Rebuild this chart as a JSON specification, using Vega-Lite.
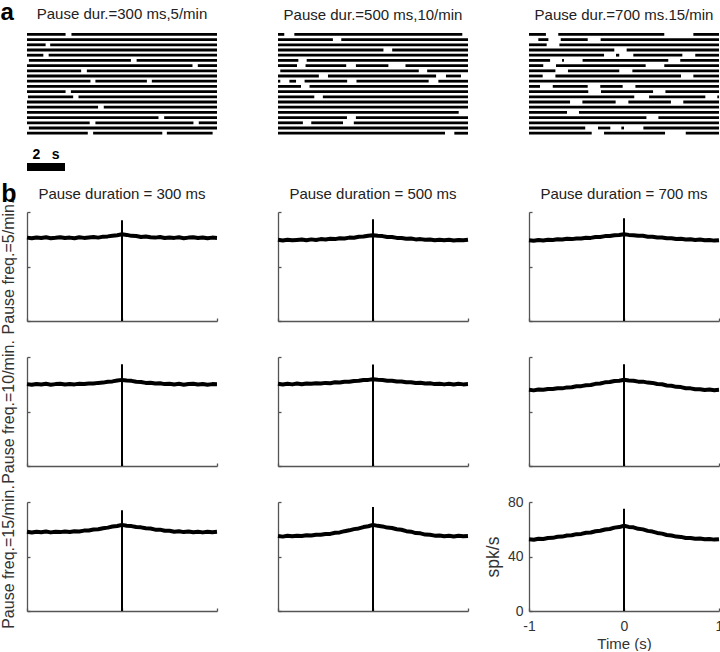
{
"$schema":"https://vega.github.io/schema/vega-lite/v6.json",
"padding":0,
"background":"white",
"config":{
 "view":{"stroke":null},
 "font":"Liberation Sans",
 "title":{"fontSize":15,"fontWeight":"normal","color":"#222","font":"Liberation Sans","offset":9.5,"frame":"group","baseline":"alphabetic"},
 "axis":{"grid":false,"domainColor":"#555","domainWidth":1.3,"tickColor":"#555","tickWidth":1.3,"tickSize":-3,"labelFont":"Liberation Sans","labelFontSize":14,"labelColor":"#333","labelFlush":false,"labelOverlap":false,"labelPadding":9,"titleFont":"Liberation Sans","titleFontWeight":"normal","titleColor":"#333"}
},
"datasets":{
 "ras":[
  {"c":1,"r":0,"s":0,"e":2.03},{"c":1,"r":0,"s":2.34,"e":10},
  {"c":1,"r":1,"s":0,"e":10},
  {"c":1,"r":2,"s":0,"e":0.98},{"c":1,"r":2,"s":1.22,"e":10},
  {"c":1,"r":3,"s":0,"e":10},
  {"c":1,"r":4,"s":0,"e":0.86},{"c":1,"r":4,"s":1.14,"e":10},
  {"c":1,"r":5,"s":0.1,"e":5.47},{"c":1,"r":5,"s":5.77,"e":10},
  {"c":1,"r":6,"s":0,"e":8.71},{"c":1,"r":6,"s":8.99,"e":10},
  {"c":1,"r":7,"s":0,"e":2.85},{"c":1,"r":7,"s":3.15,"e":10},
  {"c":1,"r":8,"s":0,"e":10},
  {"c":1,"r":9,"s":0,"e":3.34},{"c":1,"r":9,"s":3.6,"e":6.31},{"c":1,"r":9,"s":6.57,"e":10},
  {"c":1,"r":10,"s":0,"e":10},
  {"c":1,"r":11,"s":0,"e":2.03},{"c":1,"r":11,"s":2.31,"e":10},
  {"c":1,"r":12,"s":0.05,"e":2.43},{"c":1,"r":12,"s":2.71,"e":10},
  {"c":1,"r":13,"s":0,"e":10},
  {"c":1,"r":14,"s":0,"e":3.74},{"c":1,"r":14,"s":4.04,"e":10},
  {"c":1,"r":15,"s":0,"e":10},
  {"c":1,"r":16,"s":0,"e":6.92},{"c":1,"r":16,"s":7.22,"e":10},
  {"c":1,"r":17,"s":0,"e":3.3},{"c":1,"r":17,"s":3.6,"e":8.76},{"c":1,"r":17,"s":9.04,"e":10},
  {"c":1,"r":18,"s":0.1,"e":10},
  {"c":1,"r":19,"s":0,"e":3.2},{"c":1,"r":19,"s":3.48,"e":7.12},{"c":1,"r":19,"s":7.36,"e":9.77},

  {"c":2,"r":0,"s":0,"e":0.33},{"c":2,"r":0,"s":0.86,"e":9.7},
  {"c":2,"r":1,"s":0,"e":2.89},{"c":2,"r":1,"s":3.33,"e":10},
  {"c":2,"r":2,"s":0,"e":10},
  {"c":2,"r":3,"s":0,"e":5.55},{"c":2,"r":3,"s":6.01,"e":10},
  {"c":2,"r":4,"s":0,"e":10},
  {"c":2,"r":5,"s":0,"e":1.07},{"c":2,"r":5,"s":1.51,"e":10},
  {"c":2,"r":6,"s":0,"e":1.0},{"c":2,"r":6,"s":1.45,"e":3.59},{"c":2,"r":6,"s":4.1,"e":5.81},{"c":2,"r":6,"s":6.71,"e":10},
  {"c":2,"r":7,"s":0.12,"e":7.41},{"c":2,"r":7,"s":7.85,"e":10},
  {"c":2,"r":8,"s":0,"e":2.15},{"c":2,"r":8,"s":2.63,"e":8.32},{"c":2,"r":8,"s":8.84,"e":9.63},
  {"c":2,"r":9,"s":0,"e":0.12},{"c":2,"r":9,"s":0.6,"e":0.95},{"c":2,"r":9,"s":1.4,"e":3.64},{"c":2,"r":9,"s":4.13,"e":7.93},{"c":2,"r":9,"s":8.44,"e":10},
  {"c":2,"r":10,"s":0,"e":1.21},{"c":2,"r":10,"s":1.66,"e":10},
  {"c":2,"r":11,"s":0,"e":10},
  {"c":2,"r":12,"s":0,"e":1.91},{"c":2,"r":12,"s":2.36,"e":10},
  {"c":2,"r":13,"s":0,"e":10},
  {"c":2,"r":14,"s":0,"e":10},
  {"c":2,"r":15,"s":0,"e":9.51},
  {"c":2,"r":16,"s":0,"e":3.63},{"c":2,"r":16,"s":4.1,"e":10},
  {"c":2,"r":17,"s":0,"e":1.31},{"c":2,"r":17,"s":1.75,"e":3.42},{"c":2,"r":17,"s":3.99,"e":10},
  {"c":2,"r":18,"s":0,"e":10},
  {"c":2,"r":19,"s":0,"e":8.79},{"c":2,"r":19,"s":9.28,"e":10},

  {"c":3,"r":0,"s":0,"e":0.89},{"c":3,"r":0,"s":1.54,"e":7.12},{"c":3,"r":0,"s":8.65,"e":10},
  {"c":3,"r":1,"s":0.49,"e":1.02},{"c":3,"r":1,"s":1.67,"e":3.09},{"c":3,"r":1,"s":3.77,"e":10},
  {"c":3,"r":2,"s":0,"e":0.93},{"c":3,"r":2,"s":1.6,"e":10},
  {"c":3,"r":3,"s":0,"e":4.49},{"c":3,"r":3,"s":5.14,"e":10},
  {"c":3,"r":4,"s":0,"e":3.95},{"c":3,"r":4,"s":4.58,"e":4.75},{"c":3,"r":4,"s":5.49,"e":8.07},{"c":3,"r":4,"s":8.75,"e":10},
  {"c":3,"r":5,"s":0,"e":1.11},{"c":3,"r":5,"s":1.74,"e":1.84},{"c":3,"r":5,"s":2.82,"e":7.33},{"c":3,"r":5,"s":7.96,"e":10},
  {"c":3,"r":6,"s":0,"e":0.75},{"c":3,"r":6,"s":1.42,"e":6.14},{"c":3,"r":6,"s":7.12,"e":10},
  {"c":3,"r":7,"s":0,"e":1.39},{"c":3,"r":7,"s":2.05,"e":4.75},{"c":3,"r":7,"s":5.44,"e":10},
  {"c":3,"r":8,"s":0,"e":0.72},{"c":3,"r":8,"s":1.39,"e":8.0},{"c":3,"r":8,"s":8.65,"e":10},
  {"c":3,"r":9,"s":0,"e":10},
  {"c":3,"r":10,"s":0,"e":0.58},{"c":3,"r":10,"s":1.25,"e":3.09},{"c":3,"r":10,"s":3.75,"e":4.93},{"c":3,"r":10,"s":5.6,"e":10},
  {"c":3,"r":11,"s":0,"e":3.12},{"c":3,"r":11,"s":3.79,"e":6.53},{"c":3,"r":11,"s":7.18,"e":10},
  {"c":3,"r":12,"s":0,"e":5.54},{"c":3,"r":12,"s":6.32,"e":9.28},{"c":3,"r":12,"s":9.91,"e":10},
  {"c":3,"r":13,"s":0,"e":2.16},{"c":3,"r":13,"s":2.81,"e":4.56},{"c":3,"r":13,"s":5.23,"e":7.47},{"c":3,"r":13,"s":8.12,"e":10},
  {"c":3,"r":14,"s":0,"e":10},
  {"c":3,"r":15,"s":0,"e":2.0},{"c":3,"r":15,"s":2.63,"e":10},
  {"c":3,"r":16,"s":0,"e":6.18},{"c":3,"r":16,"s":6.81,"e":10},
  {"c":3,"r":17,"s":0,"e":10},
  {"c":3,"r":18,"s":0,"e":2.96},{"c":3,"r":18,"s":3.63,"e":4.28},{"c":3,"r":18,"s":4.86,"e":5.0},{"c":3,"r":18,"s":6.02,"e":10},
  {"c":3,"r":19,"s":0,"e":3.3},{"c":3,"r":19,"s":3.95,"e":7.16},{"c":3,"r":19,"s":8.25,"e":10}
 ],
 "sp":[
  {"p":"11","t":0,"b":0,"v":74},{"p":"12","t":0,"b":0,"v":74.6},{"p":"13","t":0,"b":0,"v":75.4},
  {"p":"21","t":0,"b":0,"v":74.6},{"p":"22","t":0,"b":0,"v":74.5},{"p":"23","t":0,"b":0,"v":74.6},
  {"p":"31","t":0,"b":0,"v":74},{"p":"32","t":0,"b":0,"v":76.3},{"p":"33","t":0,"b":0,"v":75}
 ],
 "tr":[
  {"p":"11","t":-1,"v":61.2},{"p":"11","t":-0.95,"v":60.7},{"p":"11","t":-0.9,"v":61.3},{"p":"11","t":-0.85,"v":60.9},{"p":"11","t":-0.8,"v":61.4},{"p":"11","t":-0.75,"v":60.8},{"p":"11","t":-0.7,"v":61.1},{"p":"11","t":-0.65,"v":61.5},{"p":"11","t":-0.6,"v":60.9},{"p":"11","t":-0.55,"v":61.2},{"p":"11","t":-0.5,"v":60.8},{"p":"11","t":-0.45,"v":61.4},{"p":"11","t":-0.4,"v":61.0},{"p":"11","t":-0.35,"v":61.3},{"p":"11","t":-0.3,"v":61.6},{"p":"11","t":-0.25,"v":61.2},{"p":"11","t":-0.2,"v":61.9},{"p":"11","t":-0.15,"v":62.1},{"p":"11","t":-0.1,"v":62.6},{"p":"11","t":-0.05,"v":63.0},{"p":"11","t":0,"v":63.6},{"p":"11","t":0.05,"v":63.2},{"p":"11","t":0.1,"v":62.5},{"p":"11","t":0.15,"v":62.4},{"p":"11","t":0.2,"v":61.7},{"p":"11","t":0.25,"v":62.0},{"p":"11","t":0.3,"v":61.4},{"p":"11","t":0.35,"v":61.2},{"p":"11","t":0.4,"v":61.6},{"p":"11","t":0.45,"v":60.9},{"p":"11","t":0.5,"v":61.3},{"p":"11","t":0.55,"v":61.0},{"p":"11","t":0.6,"v":61.4},{"p":"11","t":0.65,"v":60.8},{"p":"11","t":0.7,"v":61.2},{"p":"11","t":0.75,"v":61.5},{"p":"11","t":0.8,"v":60.9},{"p":"11","t":0.85,"v":61.3},{"p":"11","t":0.9,"v":60.8},{"p":"11","t":0.95,"v":61.2},{"p":"11","t":1,"v":61.0},
  {"p":"12","t":-1,"v":59.6},{"p":"12","t":-0.95,"v":59.1},{"p":"12","t":-0.9,"v":59.7},{"p":"12","t":-0.85,"v":59.2},{"p":"12","t":-0.8,"v":59.5},{"p":"12","t":-0.75,"v":59.8},{"p":"12","t":-0.7,"v":59.3},{"p":"12","t":-0.65,"v":59.9},{"p":"12","t":-0.6,"v":59.5},{"p":"12","t":-0.55,"v":60.1},{"p":"12","t":-0.5,"v":59.8},{"p":"12","t":-0.45,"v":60.3},{"p":"12","t":-0.4,"v":60.1},{"p":"12","t":-0.35,"v":60.7},{"p":"12","t":-0.3,"v":60.6},{"p":"12","t":-0.25,"v":61.2},{"p":"12","t":-0.2,"v":61.1},{"p":"12","t":-0.15,"v":61.8},{"p":"12","t":-0.1,"v":62.0},{"p":"12","t":-0.05,"v":62.6},{"p":"12","t":0,"v":63.0},{"p":"12","t":0.05,"v":62.5},{"p":"12","t":0.1,"v":62.3},{"p":"12","t":0.15,"v":61.6},{"p":"12","t":0.2,"v":61.6},{"p":"12","t":0.25,"v":61.0},{"p":"12","t":0.3,"v":60.9},{"p":"12","t":0.35,"v":60.4},{"p":"12","t":0.4,"v":60.5},{"p":"12","t":0.45,"v":59.9},{"p":"12","t":0.5,"v":60.1},{"p":"12","t":0.55,"v":59.6},{"p":"12","t":0.6,"v":59.8},{"p":"12","t":0.65,"v":59.3},{"p":"12","t":0.7,"v":59.7},{"p":"12","t":0.75,"v":59.2},{"p":"12","t":0.8,"v":59.6},{"p":"12","t":0.85,"v":59.1},{"p":"12","t":0.9,"v":59.5},{"p":"12","t":0.95,"v":59.2},{"p":"12","t":1,"v":59.6},
  {"p":"13","t":-1,"v":59.3},{"p":"13","t":-0.95,"v":58.9},{"p":"13","t":-0.9,"v":59.4},{"p":"13","t":-0.85,"v":59.1},{"p":"13","t":-0.8,"v":59.7},{"p":"13","t":-0.75,"v":59.5},{"p":"13","t":-0.7,"v":60.0},{"p":"13","t":-0.65,"v":59.8},{"p":"13","t":-0.6,"v":60.4},{"p":"13","t":-0.55,"v":60.1},{"p":"13","t":-0.5,"v":60.6},{"p":"13","t":-0.45,"v":60.5},{"p":"13","t":-0.4,"v":61.1},{"p":"13","t":-0.35,"v":61.0},{"p":"13","t":-0.3,"v":61.6},{"p":"13","t":-0.25,"v":61.7},{"p":"13","t":-0.2,"v":62.3},{"p":"13","t":-0.15,"v":62.4},{"p":"13","t":-0.1,"v":63.0},{"p":"13","t":-0.05,"v":63.1},{"p":"13","t":0,"v":63.7},{"p":"13","t":0.05,"v":63.2},{"p":"13","t":0.1,"v":63.0},{"p":"13","t":0.15,"v":62.5},{"p":"13","t":0.2,"v":62.5},{"p":"13","t":0.25,"v":61.9},{"p":"13","t":0.3,"v":61.9},{"p":"13","t":0.35,"v":61.3},{"p":"13","t":0.4,"v":61.3},{"p":"13","t":0.45,"v":60.7},{"p":"13","t":0.5,"v":60.8},{"p":"13","t":0.55,"v":60.2},{"p":"13","t":0.6,"v":60.4},{"p":"13","t":0.65,"v":59.8},{"p":"13","t":0.7,"v":60.0},{"p":"13","t":0.75,"v":59.5},{"p":"13","t":0.8,"v":59.8},{"p":"13","t":0.85,"v":59.2},{"p":"13","t":0.9,"v":59.5},{"p":"13","t":0.95,"v":59.0},{"p":"13","t":1,"v":59.3},
  {"p":"21","t":-1,"v":60.1},{"p":"21","t":-0.95,"v":59.6},{"p":"21","t":-0.9,"v":60.2},{"p":"21","t":-0.85,"v":59.8},{"p":"21","t":-0.8,"v":60.3},{"p":"21","t":-0.75,"v":59.7},{"p":"21","t":-0.7,"v":60.1},{"p":"21","t":-0.65,"v":60.4},{"p":"21","t":-0.6,"v":59.8},{"p":"21","t":-0.55,"v":60.2},{"p":"21","t":-0.5,"v":59.9},{"p":"21","t":-0.45,"v":60.4},{"p":"21","t":-0.4,"v":60.2},{"p":"21","t":-0.35,"v":60.6},{"p":"21","t":-0.3,"v":60.5},{"p":"21","t":-0.25,"v":61.0},{"p":"21","t":-0.2,"v":61.2},{"p":"21","t":-0.15,"v":61.8},{"p":"21","t":-0.1,"v":62.1},{"p":"21","t":-0.05,"v":62.7},{"p":"21","t":0,"v":63.2},{"p":"21","t":0.05,"v":62.8},{"p":"21","t":0.1,"v":62.5},{"p":"21","t":0.15,"v":61.8},{"p":"21","t":0.2,"v":61.7},{"p":"21","t":0.25,"v":61.0},{"p":"21","t":0.3,"v":61.1},{"p":"21","t":0.35,"v":60.5},{"p":"21","t":0.4,"v":60.7},{"p":"21","t":0.45,"v":60.1},{"p":"21","t":0.5,"v":60.4},{"p":"21","t":0.55,"v":59.8},{"p":"21","t":0.6,"v":60.3},{"p":"21","t":0.65,"v":59.7},{"p":"21","t":0.7,"v":60.2},{"p":"21","t":0.75,"v":60.4},{"p":"21","t":0.8,"v":59.8},{"p":"21","t":0.85,"v":60.2},{"p":"21","t":0.9,"v":59.7},{"p":"21","t":0.95,"v":60.1},{"p":"21","t":1,"v":60.0},
  {"p":"22","t":-1,"v":60.3},{"p":"22","t":-0.95,"v":59.8},{"p":"22","t":-0.9,"v":60.4},{"p":"22","t":-0.85,"v":59.9},{"p":"22","t":-0.8,"v":60.5},{"p":"22","t":-0.75,"v":60.0},{"p":"22","t":-0.7,"v":60.6},{"p":"22","t":-0.65,"v":60.3},{"p":"22","t":-0.6,"v":60.8},{"p":"22","t":-0.55,"v":60.5},{"p":"22","t":-0.5,"v":61.0},{"p":"22","t":-0.45,"v":60.8},{"p":"22","t":-0.4,"v":61.4},{"p":"22","t":-0.35,"v":61.3},{"p":"22","t":-0.3,"v":61.9},{"p":"22","t":-0.25,"v":61.8},{"p":"22","t":-0.2,"v":62.4},{"p":"22","t":-0.15,"v":62.5},{"p":"22","t":-0.1,"v":63.1},{"p":"22","t":-0.05,"v":63.2},{"p":"22","t":0,"v":63.7},{"p":"22","t":0.05,"v":63.3},{"p":"22","t":0.1,"v":63.1},{"p":"22","t":0.15,"v":62.6},{"p":"22","t":0.2,"v":62.6},{"p":"22","t":0.25,"v":62.0},{"p":"22","t":0.3,"v":62.0},{"p":"22","t":0.35,"v":61.4},{"p":"22","t":0.4,"v":61.5},{"p":"22","t":0.45,"v":60.9},{"p":"22","t":0.5,"v":61.1},{"p":"22","t":0.55,"v":60.5},{"p":"22","t":0.6,"v":60.7},{"p":"22","t":0.65,"v":60.1},{"p":"22","t":0.7,"v":60.4},{"p":"22","t":0.75,"v":59.9},{"p":"22","t":0.8,"v":60.3},{"p":"22","t":0.85,"v":59.8},{"p":"22","t":0.9,"v":60.3},{"p":"22","t":0.95,"v":59.9},{"p":"22","t":1,"v":60.2},
  {"p":"23","t":-1,"v":55.9},{"p":"23","t":-0.95,"v":55.5},{"p":"23","t":-0.9,"v":56.1},{"p":"23","t":-0.85,"v":55.9},{"p":"23","t":-0.8,"v":56.5},{"p":"23","t":-0.75,"v":56.5},{"p":"23","t":-0.7,"v":57.1},{"p":"23","t":-0.65,"v":57.0},{"p":"23","t":-0.6,"v":57.7},{"p":"23","t":-0.55,"v":57.8},{"p":"23","t":-0.5,"v":58.5},{"p":"23","t":-0.45,"v":58.6},{"p":"23","t":-0.4,"v":59.3},{"p":"23","t":-0.35,"v":59.5},{"p":"23","t":-0.3,"v":60.3},{"p":"23","t":-0.25,"v":60.6},{"p":"23","t":-0.2,"v":61.4},{"p":"23","t":-0.15,"v":61.6},{"p":"23","t":-0.1,"v":62.4},{"p":"23","t":-0.05,"v":62.6},{"p":"23","t":0,"v":63.3},{"p":"23","t":0.05,"v":62.7},{"p":"23","t":0.1,"v":62.6},{"p":"23","t":0.15,"v":61.9},{"p":"23","t":0.2,"v":61.9},{"p":"23","t":0.25,"v":61.2},{"p":"23","t":0.3,"v":61.0},{"p":"23","t":0.35,"v":60.2},{"p":"23","t":0.4,"v":60.0},{"p":"23","t":0.45,"v":59.1},{"p":"23","t":0.5,"v":58.9},{"p":"23","t":0.55,"v":58.1},{"p":"23","t":0.6,"v":57.9},{"p":"23","t":0.65,"v":57.1},{"p":"23","t":0.7,"v":57.0},{"p":"23","t":0.75,"v":56.3},{"p":"23","t":0.8,"v":56.4},{"p":"23","t":0.85,"v":55.8},{"p":"23","t":0.9,"v":56.1},{"p":"23","t":0.95,"v":55.6},{"p":"23","t":1,"v":55.9},
  {"p":"31","t":-1,"v":58.1},{"p":"31","t":-0.95,"v":57.6},{"p":"31","t":-0.9,"v":58.2},{"p":"31","t":-0.85,"v":57.8},{"p":"31","t":-0.8,"v":58.3},{"p":"31","t":-0.75,"v":57.7},{"p":"31","t":-0.7,"v":58.2},{"p":"31","t":-0.65,"v":57.9},{"p":"31","t":-0.6,"v":58.4},{"p":"31","t":-0.55,"v":58.0},{"p":"31","t":-0.5,"v":58.5},{"p":"31","t":-0.45,"v":58.4},{"p":"31","t":-0.4,"v":59.0},{"p":"31","t":-0.35,"v":59.1},{"p":"31","t":-0.3,"v":59.8},{"p":"31","t":-0.25,"v":60.0},{"p":"31","t":-0.2,"v":60.7},{"p":"31","t":-0.15,"v":61.2},{"p":"31","t":-0.1,"v":62.0},{"p":"31","t":-0.05,"v":62.4},{"p":"31","t":0,"v":63.2},{"p":"31","t":0.05,"v":62.6},{"p":"31","t":0.1,"v":62.3},{"p":"31","t":0.15,"v":61.6},{"p":"31","t":0.2,"v":61.4},{"p":"31","t":0.25,"v":60.7},{"p":"31","t":0.3,"v":60.5},{"p":"31","t":0.35,"v":59.7},{"p":"31","t":0.4,"v":59.7},{"p":"31","t":0.45,"v":58.9},{"p":"31","t":0.5,"v":58.9},{"p":"31","t":0.55,"v":58.2},{"p":"31","t":0.6,"v":58.5},{"p":"31","t":0.65,"v":57.9},{"p":"31","t":0.7,"v":58.3},{"p":"31","t":0.75,"v":57.8},{"p":"31","t":0.8,"v":58.2},{"p":"31","t":0.85,"v":57.7},{"p":"31","t":0.9,"v":58.2},{"p":"31","t":0.95,"v":57.8},{"p":"31","t":1,"v":58.1},
  {"p":"32","t":-1,"v":55.1},{"p":"32","t":-0.95,"v":54.6},{"p":"32","t":-0.9,"v":55.2},{"p":"32","t":-0.85,"v":54.8},{"p":"32","t":-0.8,"v":55.3},{"p":"32","t":-0.75,"v":55.0},{"p":"32","t":-0.7,"v":55.6},{"p":"32","t":-0.65,"v":55.4},{"p":"32","t":-0.6,"v":56.0},{"p":"32","t":-0.55,"v":55.9},{"p":"32","t":-0.5,"v":56.5},{"p":"32","t":-0.45,"v":56.6},{"p":"32","t":-0.4,"v":57.4},{"p":"32","t":-0.35,"v":57.7},{"p":"32","t":-0.3,"v":58.6},{"p":"32","t":-0.25,"v":59.2},{"p":"32","t":-0.2,"v":60.1},{"p":"32","t":-0.15,"v":60.6},{"p":"32","t":-0.1,"v":61.6},{"p":"32","t":-0.05,"v":62.2},{"p":"32","t":0,"v":63.2},{"p":"32","t":0.05,"v":62.5},{"p":"32","t":0.1,"v":62.1},{"p":"32","t":0.15,"v":61.2},{"p":"32","t":0.2,"v":60.9},{"p":"32","t":0.25,"v":60.0},{"p":"32","t":0.3,"v":59.6},{"p":"32","t":0.35,"v":58.6},{"p":"32","t":0.4,"v":58.2},{"p":"32","t":0.45,"v":57.2},{"p":"32","t":0.5,"v":57.0},{"p":"32","t":0.55,"v":56.1},{"p":"32","t":0.6,"v":56.0},{"p":"32","t":0.65,"v":55.3},{"p":"32","t":0.7,"v":55.4},{"p":"32","t":0.75,"v":54.8},{"p":"32","t":0.8,"v":55.2},{"p":"32","t":0.85,"v":54.7},{"p":"32","t":0.9,"v":55.2},{"p":"32","t":0.95,"v":54.8},{"p":"32","t":1,"v":55.1},
  {"p":"33","t":-1,"v":52.7},{"p":"33","t":-0.95,"v":52.3},{"p":"33","t":-0.9,"v":53.0},{"p":"33","t":-0.85,"v":52.9},{"p":"33","t":-0.8,"v":53.6},{"p":"33","t":-0.75,"v":53.7},{"p":"33","t":-0.7,"v":54.5},{"p":"33","t":-0.65,"v":54.6},{"p":"33","t":-0.6,"v":55.4},{"p":"33","t":-0.55,"v":55.6},{"p":"33","t":-0.5,"v":56.4},{"p":"33","t":-0.45,"v":56.6},{"p":"33","t":-0.4,"v":57.4},{"p":"33","t":-0.35,"v":57.6},{"p":"33","t":-0.3,"v":58.5},{"p":"33","t":-0.25,"v":58.9},{"p":"33","t":-0.2,"v":59.8},{"p":"33","t":-0.15,"v":60.2},{"p":"33","t":-0.1,"v":61.2},{"p":"33","t":-0.05,"v":61.6},{"p":"33","t":0,"v":62.6},{"p":"33","t":0.05,"v":61.7},{"p":"33","t":0.1,"v":61.4},{"p":"33","t":0.15,"v":60.3},{"p":"33","t":0.2,"v":59.9},{"p":"33","t":0.25,"v":58.8},{"p":"33","t":0.3,"v":58.3},{"p":"33","t":0.35,"v":57.3},{"p":"33","t":0.4,"v":56.8},{"p":"33","t":0.45,"v":55.8},{"p":"33","t":0.5,"v":55.4},{"p":"33","t":0.55,"v":54.6},{"p":"33","t":0.6,"v":54.4},{"p":"33","t":0.65,"v":53.6},{"p":"33","t":0.7,"v":53.6},{"p":"33","t":0.75,"v":53.0},{"p":"33","t":0.8,"v":53.2},{"p":"33","t":0.85,"v":52.6},{"p":"33","t":0.9,"v":52.9},{"p":"33","t":0.95,"v":52.4},{"p":"33","t":1,"v":52.7}
 ]
},
"columns":3,
"spacing":{"row":36,"column":61},
"bounds":"flush",
"align":"each",
"concat":[
 {"width":190,"height":144,
  "layer":[
   {"data":{"name":"ras"},"transform":[{"filter":"datum.c==1"}],"mark":{"type":"rule","color":"#000","strokeWidth":2.8,"strokeCap":"butt"},
    "encoding":{"x":{"field":"s","type":"quantitative","scale":{"domain":[0,10],"nice":false,"zero":false},"axis":null},"x2":{"field":"e"},
     "y":{"field":"r","type":"quantitative","scale":{"domain":[-0.46,27.23],"reverse":true,"nice":false,"zero":false},"axis":null}}},
   {"data":{"values":[{"s":0,"e":2,"r":25.5}]},"mark":{"type":"rule","color":"#000","strokeWidth":8,"strokeCap":"butt"},
    "encoding":{"x":{"field":"s","type":"quantitative"},"x2":{"field":"e"},"y":{"field":"r","type":"quantitative"}}},
   {"data":{"values":[{"s":1,"r":23.96,"l":"2\u00a0\u00a0\u00a0s"}]},"mark":{"type":"text","font":"Liberation Sans","fontSize":14,"fontWeight":"bold","align":"center","baseline":"alphabetic","color":"#000"},
    "encoding":{"x":{"field":"s","type":"quantitative"},"y":{"field":"r","type":"quantitative"},"text":{"field":"l"}}},
   {"data":{"values":[{"s":5,"r":-2.96,"l":"Pause dur.=300 ms,5/min"}]},"mark":{"type":"text","font":"Liberation Sans","fontSize":15,"align":"center","baseline":"alphabetic","color":"#222"},
    "encoding":{"x":{"field":"s","type":"quantitative"},"y":{"field":"r","type":"quantitative"},"text":{"field":"l"}}},
   {"data":{"values":[{"s":-1.39,"r":-2.77,"l":"a"}]},"mark":{"type":"text","font":"Liberation Sans","fontSize":24,"fontWeight":"bold","align":"left","baseline":"alphabetic","color":"#000"},
    "encoding":{"x":{"field":"s","type":"quantitative"},"y":{"field":"r","type":"quantitative"},"text":{"field":"l"}}}
  ]},
 {"width":190,"height":144,"title":{"text":"Pause dur.=500 ms,10/min"},
  "data":{"name":"ras"},"transform":[{"filter":"datum.c==2"}],"mark":{"type":"rule","color":"#000","strokeWidth":2.8,"strokeCap":"butt"},
  "encoding":{"x":{"field":"s","type":"quantitative","scale":{"domain":[0,10],"nice":false,"zero":false},"axis":null},"x2":{"field":"e"},
   "y":{"field":"r","type":"quantitative","scale":{"domain":[-0.46,27.23],"reverse":true,"nice":false,"zero":false},"axis":null}}},
 {"width":190,"height":144,"title":{"text":"Pause dur.=700 ms.15/min"},
  "data":{"name":"ras"},"transform":[{"filter":"datum.c==3"}],"mark":{"type":"rule","color":"#000","strokeWidth":2.8,"strokeCap":"butt"},
  "encoding":{"x":{"field":"s","type":"quantitative","scale":{"domain":[0,10],"nice":false,"zero":false},"axis":null},"x2":{"field":"e"},
   "y":{"field":"r","type":"quantitative","scale":{"domain":[-0.46,27.23],"reverse":true,"nice":false,"zero":false},"axis":null}}},

 {"width":190,"height":109,
  "layer":[
   {"data":{"name":"tr"},"transform":[{"filter":"datum.p=='11'"}],"mark":{"type":"line","color":"#000","strokeWidth":4,"strokeJoin":"round"},
    "encoding":{"x":{"field":"t","type":"quantitative","scale":{"domain":[-1,1],"nice":false},"axis":{"values":[-1,0,1],"labels":false,"title":null}},
     "y":{"field":"v","type":"quantitative","scale":{"domain":[0,80],"nice":false},"axis":{"values":[0,20,40,60,80],"labels":false,"title":"Pause freq.=5/min.","titleFontSize":16,"titlePadding":10}}}},
   {"data":{"name":"sp"},"transform":[{"filter":"datum.p=='11'"}],"mark":{"type":"rule","color":"#000","strokeWidth":2},
    "encoding":{"x":{"field":"t","type":"quantitative"},"y":{"field":"b","type":"quantitative"},"y2":{"field":"v"}}},
   {"data":{"values":[{"t":0,"v":89.54,"l":"Pause duration = 300 ms"}]},"mark":{"type":"text","font":"Liberation Sans","fontSize":15,"align":"center","baseline":"alphabetic","color":"#222"},
    "encoding":{"x":{"field":"t","type":"quantitative"},"y":{"field":"v","type":"quantitative"},"text":{"field":"l"}}},
   {"data":{"values":[{"t":-1.27,"v":87.3,"l":"b"}]},"mark":{"type":"text","font":"Liberation Sans","fontSize":25,"fontWeight":"bold","align":"left","baseline":"alphabetic","color":"#000"},
    "encoding":{"x":{"field":"t","type":"quantitative"},"y":{"field":"v","type":"quantitative"},"text":{"field":"l"}}}
  ]},
 {"width":190,"height":109,"title":{"text":"Pause duration = 500 ms"},
  "layer":[
   {"data":{"name":"tr"},"transform":[{"filter":"datum.p=='12'"}],"mark":{"type":"line","color":"#000","strokeWidth":4,"strokeJoin":"round"},
    "encoding":{"x":{"field":"t","type":"quantitative","scale":{"domain":[-1,1],"nice":false},"axis":{"values":[-1,0,1],"labels":false,"title":null}},
     "y":{"field":"v","type":"quantitative","scale":{"domain":[0,80],"nice":false},"axis":{"values":[0,20,40,60,80],"labels":false,"title":null}}}},
   {"data":{"name":"sp"},"transform":[{"filter":"datum.p=='12'"}],"mark":{"type":"rule","color":"#000","strokeWidth":2},
    "encoding":{"x":{"field":"t","type":"quantitative"},"y":{"field":"b","type":"quantitative"},"y2":{"field":"v"}}}
  ]},
 {"width":190,"height":109,"title":{"text":"Pause duration = 700 ms"},
  "layer":[
   {"data":{"name":"tr"},"transform":[{"filter":"datum.p=='13'"}],"mark":{"type":"line","color":"#000","strokeWidth":4,"strokeJoin":"round"},
    "encoding":{"x":{"field":"t","type":"quantitative","scale":{"domain":[-1,1],"nice":false},"axis":{"values":[-1,0,1],"labels":false,"title":null}},
     "y":{"field":"v","type":"quantitative","scale":{"domain":[0,80],"nice":false},"axis":{"values":[0,20,40,60,80],"labels":false,"title":null}}}},
   {"data":{"name":"sp"},"transform":[{"filter":"datum.p=='13'"}],"mark":{"type":"rule","color":"#000","strokeWidth":2},
    "encoding":{"x":{"field":"t","type":"quantitative"},"y":{"field":"b","type":"quantitative"},"y2":{"field":"v"}}}
  ]},

 {"width":190,"height":109,
  "layer":[
   {"data":{"name":"tr"},"transform":[{"filter":"datum.p=='21'"}],"mark":{"type":"line","color":"#000","strokeWidth":4,"strokeJoin":"round"},
    "encoding":{"x":{"field":"t","type":"quantitative","scale":{"domain":[-1,1],"nice":false},"axis":{"values":[-1,0,1],"labels":false,"title":null}},
     "y":{"field":"v","type":"quantitative","scale":{"domain":[0,80],"nice":false},"axis":{"values":[0,20,40,60,80],"labels":false,"title":"Pause freq.=10/min.","titleFontSize":16,"titlePadding":10}}}},
   {"data":{"name":"sp"},"transform":[{"filter":"datum.p=='21'"}],"mark":{"type":"rule","color":"#000","strokeWidth":2},
    "encoding":{"x":{"field":"t","type":"quantitative"},"y":{"field":"b","type":"quantitative"},"y2":{"field":"v"}}}
  ]},
 {"width":190,"height":109,
  "layer":[
   {"data":{"name":"tr"},"transform":[{"filter":"datum.p=='22'"}],"mark":{"type":"line","color":"#000","strokeWidth":4,"strokeJoin":"round"},
    "encoding":{"x":{"field":"t","type":"quantitative","scale":{"domain":[-1,1],"nice":false},"axis":{"values":[-1,0,1],"labels":false,"title":null}},
     "y":{"field":"v","type":"quantitative","scale":{"domain":[0,80],"nice":false},"axis":{"values":[0,20,40,60,80],"labels":false,"title":null}}}},
   {"data":{"name":"sp"},"transform":[{"filter":"datum.p=='22'"}],"mark":{"type":"rule","color":"#000","strokeWidth":2},
    "encoding":{"x":{"field":"t","type":"quantitative"},"y":{"field":"b","type":"quantitative"},"y2":{"field":"v"}}}
  ]},
 {"width":190,"height":109,
  "layer":[
   {"data":{"name":"tr"},"transform":[{"filter":"datum.p=='23'"}],"mark":{"type":"line","color":"#000","strokeWidth":4,"strokeJoin":"round"},
    "encoding":{"x":{"field":"t","type":"quantitative","scale":{"domain":[-1,1],"nice":false},"axis":{"values":[-1,0,1],"labels":false,"title":null}},
     "y":{"field":"v","type":"quantitative","scale":{"domain":[0,80],"nice":false},"axis":{"values":[0,20,40,60,80],"labels":false,"title":null}}}},
   {"data":{"name":"sp"},"transform":[{"filter":"datum.p=='23'"}],"mark":{"type":"rule","color":"#000","strokeWidth":2},
    "encoding":{"x":{"field":"t","type":"quantitative"},"y":{"field":"b","type":"quantitative"},"y2":{"field":"v"}}}
  ]},

 {"width":190,"height":109,
  "layer":[
   {"data":{"name":"tr"},"transform":[{"filter":"datum.p=='31'"}],"mark":{"type":"line","color":"#000","strokeWidth":4,"strokeJoin":"round"},
    "encoding":{"x":{"field":"t","type":"quantitative","scale":{"domain":[-1,1],"nice":false},"axis":{"values":[-1,0,1],"labels":false,"title":null}},
     "y":{"field":"v","type":"quantitative","scale":{"domain":[0,80],"nice":false},"axis":{"values":[0,20,40,60,80],"labels":false,"title":"Pause freq.=15/min.","titleFontSize":16,"titlePadding":10}}}},
   {"data":{"name":"sp"},"transform":[{"filter":"datum.p=='31'"}],"mark":{"type":"rule","color":"#000","strokeWidth":2},
    "encoding":{"x":{"field":"t","type":"quantitative"},"y":{"field":"b","type":"quantitative"},"y2":{"field":"v"}}}
  ]},
 {"width":190,"height":109,
  "layer":[
   {"data":{"name":"tr"},"transform":[{"filter":"datum.p=='32'"}],"mark":{"type":"line","color":"#000","strokeWidth":4,"strokeJoin":"round"},
    "encoding":{"x":{"field":"t","type":"quantitative","scale":{"domain":[-1,1],"nice":false},"axis":{"values":[-1,0,1],"labels":false,"title":null}},
     "y":{"field":"v","type":"quantitative","scale":{"domain":[0,80],"nice":false},"axis":{"values":[0,20,40,60,80],"labels":false,"title":null}}}},
   {"data":{"name":"sp"},"transform":[{"filter":"datum.p=='32'"}],"mark":{"type":"rule","color":"#000","strokeWidth":2},
    "encoding":{"x":{"field":"t","type":"quantitative"},"y":{"field":"b","type":"quantitative"},"y2":{"field":"v"}}}
  ]},
 {"width":190,"height":109,
  "layer":[
   {"data":{"name":"tr"},"transform":[{"filter":"datum.p=='33'"}],"mark":{"type":"line","color":"#000","strokeWidth":4,"strokeJoin":"round"},
    "encoding":{"x":{"field":"t","type":"quantitative","scale":{"domain":[-1,1],"nice":false},"axis":{"values":[-1,0,1],"labels":true,"labelPadding":11,"labelExpr":"datum.value == 0 ? '0' : (datum.value < 0 ? '-1' : '1')","title":"Time (s)","titleFontSize":15,"titlePadding":3}},
     "y":{"field":"v","type":"quantitative","scale":{"domain":[0,80],"nice":false},"axis":{"values":[0,20,40,60,80],"labels":true,"labelExpr":"datum.value == 0 ? '0' : (datum.value == 40 ? '40' : (datum.value == 80 ? '80' : ''))","title":"spk/s","titleFontSize":17.5,"titlePadding":5}}}},
   {"data":{"name":"sp"},"transform":[{"filter":"datum.p=='33'"}],"mark":{"type":"rule","color":"#000","strokeWidth":2},
    "encoding":{"x":{"field":"t","type":"quantitative"},"y":{"field":"b","type":"quantitative"},"y2":{"field":"v"}}}
  ]}
]
}
